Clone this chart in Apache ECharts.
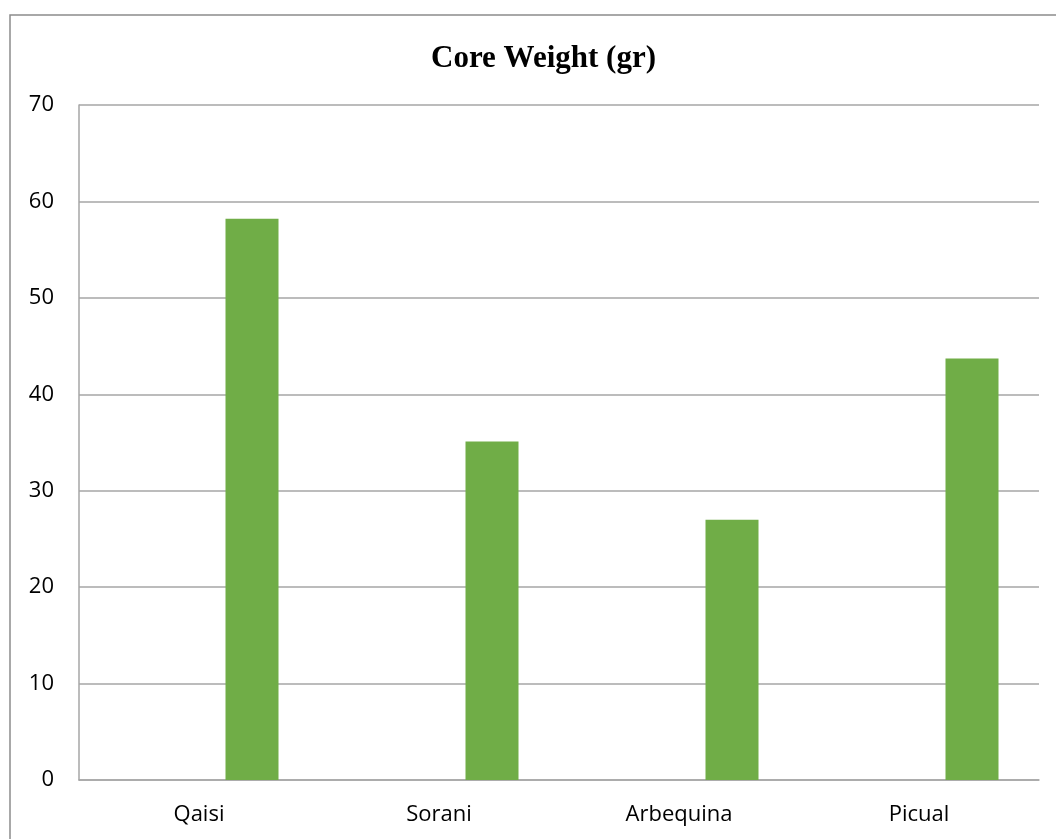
<!DOCTYPE html>
<html>
  <head>
    <meta charset="utf-8" />
    <script src="https://cdn.jsdelivr.net/npm/echarts@6.0.0/dist/echarts.min.js"></script>
    <style>
      html, body { margin: 0; padding: 0; background: #fff; }
    </style>
  </head>
  <body>
    <div id="main" style="width: 1056px; height: 839px"></div>

    <script type="text/javascript">
      // chart data
      var categories = ["Qaisi", "Sorani", "Arbequina", "Picual"];
      var emptySeries = [null, null, null, null]; // first series has no bars
      var coreWeight = [58.2, 35.1, 27.0, 43.7];
      var yTicks = { min: 0, max: 70, interval: 10 };

      var myChart = echarts.init(document.getElementById("main"));

      var gridColor = "#a6a6a6";
      var labelFont = "'Open Sans', 'Noto Sans', sans-serif";

      var option = {
        animation: false,
        backgroundColor: "#ffffff",
        title: {
          text: "Core Weight (gr)",
          left: 426,
          top: 38,
          textStyle: {
            fontFamily: "'Liberation Serif', 'DejaVu Serif', serif",
            fontWeight: "bold",
            fontSize: 31,
            color: "#000",
          },
        },
        graphic: [
          {
            type: "rect",
            shape: { x: 10, y: 15, width: 1060, height: 840 },
            style: { fill: "none", stroke: "#8c8c8c", lineWidth: 1.5 },
            z: -1,
          },
        ],
        grid: {
          left: 79,
          right: 17,
          top: 105,
          bottom: 59,
          containLabel: false,
        },
        xAxis: {
          type: "category",
          data: categories,
          axisTick: { show: false },
          axisLine: { show: true, lineStyle: { color: gridColor, width: 1.5 } },
          axisLabel: {
            fontFamily: labelFont,
            fontSize: 22,
            color: "#000",
            margin: 24,
          },
        },
        yAxis: {
          type: "value",
          min: yTicks.min,
          max: yTicks.max,
          interval: yTicks.interval,
          axisLine: { show: true, lineStyle: { color: gridColor, width: 1.5 } },
          axisTick: { show: false },
          splitLine: { lineStyle: { color: gridColor, width: 1.5 } },
          axisLabel: {
            fontFamily: labelFont,
            fontSize: 22,
            color: "#000",
            margin: 25,
          },
        },
        series: [
          {
            type: "bar",
            data: emptySeries,
            barWidth: 53,
            barGap: "100%",
            itemStyle: { color: "#4472c4" },
          },
          {
            type: "bar",
            data: coreWeight,
            barWidth: 53,
            barGap: "100%",
            itemStyle: { color: "#70ad47" },
          },
        ],
      };

      myChart.setOption(option);
    </script>
  </body>
</html>
